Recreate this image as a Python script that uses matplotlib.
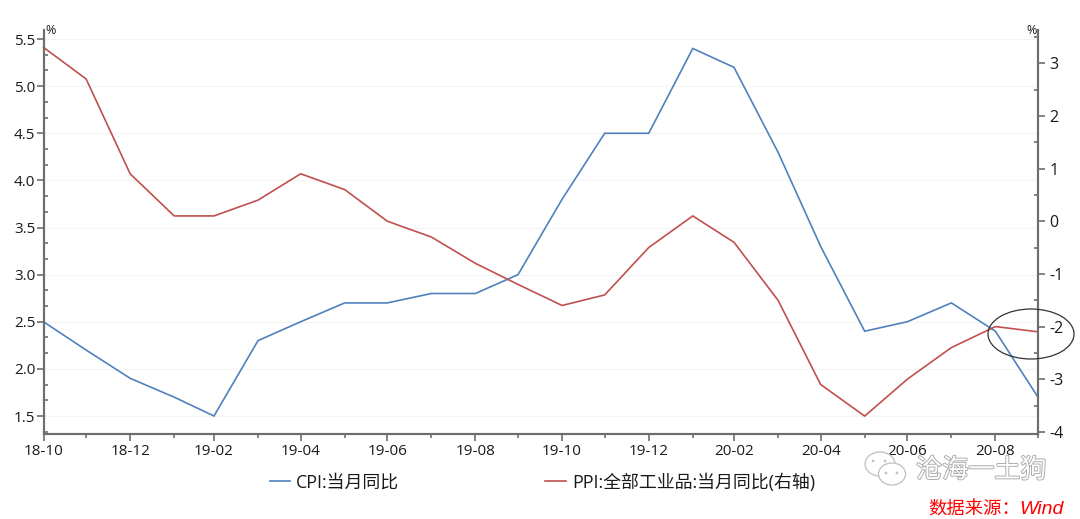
import matplotlib
matplotlib.use("Agg")
import matplotlib.pyplot as plt
import matplotlib.patheffects as pe
from matplotlib.patches import Ellipse, Circle
from matplotlib.ticker import FixedLocator
import pandas as pd

plt.rcParams['font.family'] = ['Open Sans', 'Noto Sans CJK SC', 'DejaVu Sans']

months = pd.date_range("2018-10-31", "2020-09-30", freq="ME")
tick_labels = ["18-10","18-12","19-02","19-04","19-06","19-08","19-10","19-12","20-02","20-04","20-06","20-08"]
cpi = [2.5,2.2,1.9,1.7,1.5,2.3,2.5,2.7,2.7,2.8,2.8,3.0,3.8,4.5,4.5,5.4,5.2,4.3,3.3,2.4,2.5,2.7,2.4,1.7]
ppi = [3.3,2.7,0.9,0.1,0.1,0.4,0.9,0.6,0.0,-0.3,-0.8,-1.2,-1.6,-1.4,-0.5,0.1,-0.4,-1.5,-3.1,-3.7,-3.0,-2.4,-2.0,-2.1]
left_ticks = [1.5,2.0,2.5,3.0,3.5,4.0,4.5,5.0,5.5]
right_ticks = [-4,-3,-2,-1,0,1,2,3]
cpi_name = "CPI:当月同比"
ppi_name = "PPI:全部工业品:当月同比(右轴)"

W, H = 1080, 519
BLUE, RED, AX = "#4F81BD", "#C0504D", "#6e6e6e"
TXT = "#1a1a1a"
fig = plt.figure(figsize=(W/100, H/100), dpi=100)
L, R, T, B = 43.5, 1038, 30, 434
ax = fig.add_axes([L/W, 1-B/H, (R-L)/W, (B-T)/H])
ax2 = ax.twinx()

ax.set_xlim(months[0], months[-1])
ax.set_ylim(1.309, 5.596)
ax2.set_ylim(-4.04, 3.63)

ln1, = ax.plot(months, cpi, color=BLUE, lw=1.2, solid_joinstyle="miter", clip_on=False)
ln2, = ax2.plot(months, ppi, color=RED, lw=1.2, solid_joinstyle="miter", clip_on=False)

ax.grid(axis="y", color="#f5f5f5", lw=1)
ax.set_axisbelow(True)
ax.set_xticks(months[::2], tick_labels)
ax.xaxis.set_minor_locator(FixedLocator([matplotlib.dates.date2num(d) for d in months[1::2]]))
ax.set_yticks(left_ticks, [f"{v:.1f}" for v in left_ticks])
ax.yaxis.set_minor_locator(FixedLocator([1.3333+i/6 for i in range(26) if i % 3 != 1]))
ax2.set_yticks(right_ticks, [str(v) for v in right_ticks])
ax2.yaxis.set_minor_locator(FixedLocator([-3.5,-2.5,-1.5,-0.5,0.5,1.5,2.5,3.5]))

for a in (ax, ax2):
    for s in a.spines.values():
        s.set_color(AX); s.set_linewidth(1.5)
    a.spines["top"].set_visible(False)
ax.tick_params(axis="x", which="major", length=5, width=1.2, color=AX, labelsize=11, labelcolor=TXT, pad=2.5)
ax.tick_params(axis="x", which="minor", length=3, width=1.2, color=AX)
ax.tick_params(axis="y", which="major", length=5, width=1.2, color=AX, labelsize=11, labelcolor=TXT, pad=1)
ax.tick_params(axis="y", which="minor", direction="in", length=3, width=1.2, color=AX)
ax2.tick_params(axis="y", which="major", length=5, width=1.2, color=AX, labelsize=11.5, labelcolor=TXT, pad=3)
ax2.tick_params(axis="y", which="minor", direction="in", length=3, width=1.2, color=AX)

def fx(x): return x/W
def fy(y): return 1-y/H

fig.text(fx(45), fy(31), "%", fontsize=9, color=TXT, va="center", ha="left")
fig.text(fx(1037), fy(31), "%", fontsize=9, color=TXT, va="center", ha="right")

leg = fig.legend([ln1, ln2], [cpi_name, ppi_name], ncol=2, loc="center left",
                 bbox_to_anchor=(fx(270), fy(482.5)), borderpad=0, borderaxespad=0, frameon=False,
                 fontsize=12.9, handlelength=1.12, handletextpad=0.35, columnspacing=8.15,
                 labelcolor=TXT)

# Ellipse annotation
fig.add_artist(Ellipse((fx(1031), fy(334)), 86/W, 50/H, transform=fig.transFigure,
                       fill=False, ec="#333333", lw=0.9, zorder=10))

# Watermark
wm = "#a8a8a8"
fig.text(fx(916), fy(470), "沧海一土狗", fontsize=18.8, color="white", va="center", ha="left",
         family="Noto Sans CJK SC",
         path_effects=[pe.withStroke(linewidth=1.3, foreground=wm)])
px = fig.add_axes([0, 0, 1, 1], facecolor="none")
px.set_xlim(0, W); px.set_ylim(H, 0); px.axis("off")
px.add_patch(Ellipse((880, 464), 30, 24, fill=True, fc="white", ec="#c4c4c4", lw=1))
px.add_patch(Ellipse((892, 474), 27, 22, fill=True, fc="white", ec="#c4c4c4", lw=1))
for cx, cy in [(873, 461), (885, 461), (886, 473), (897, 473)]:
    px.add_patch(Circle((cx, cy), 1.4, fc="#c4c4c4", ec="none"))

# Source note
fig.text(fx(928), fy(510), "数据来源：", fontsize=13.2, color="#FF0000", va="center", ha="left",
         family="Noto Sans CJK SC")
fig.text(fx(1019), fy(510), "Wind", fontsize=14, color="#FF0000", va="center", ha="left",
         style="italic", family="Liberation Sans")

fig.savefig("out.png", dpi=100)
